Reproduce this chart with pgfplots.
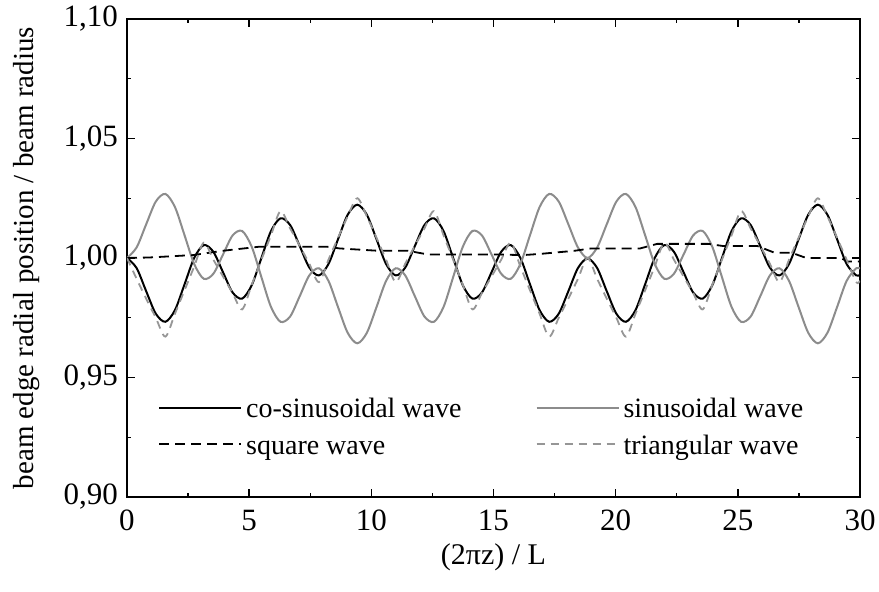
\documentclass[border=0pt]{standalone}
\usepackage{fontspec}
\setmainfont{Liberation Serif}
\usepackage{pgfplots}
\pgfplotsset{compat=1.18}
\definecolor{lgray}{RGB}{140,140,140}
\definecolor{dgray}{RGB}{150,150,150}
\begin{document}
\begin{tikzpicture}
\begin{axis}[
  scale only axis,
  width=366.5pt, height=239pt,
  xmin=0, xmax=30, ymin=0.90, ymax=1.10,
  xtick={0,5,...,30},
  ytick={0.90,0.95,1.00,1.05,1.10},
  minor x tick num=1, minor y tick num=1,
  major tick length=4pt, minor tick length=2pt,
  tick align=inside,
  axis line style={line width=0.9pt},
  every tick/.style={line width=0.7pt, black},
  /pgf/number format/assume math mode=true,
  tick label style={font=\fontsize{15.5}{17}\selectfont},
  yticklabel style={xshift=-1pt, /pgf/number format/.cd, fixed, fixed zerofill, precision=2, use comma},
  xticklabel style={yshift=-3pt, /pgf/number format/.cd, fixed, precision=0},
  xlabel={(2πz) / L},
  ylabel={beam edge radial position / beam radius},
  xlabel style={at={(axis description cs:0.5,-0.127)}, anchor=center, font=\fontsize{15}{17}\selectfont},
  ylabel style={at={(axis description cs:-0.1364,0.5)}, anchor=center, rotate=0, font=\fontsize{14.5}{16}\selectfont},
  legend columns=2,
  legend image code/.code={\draw[#1] (0pt,0pt) -- (41pt,0pt);},
  legend style={at={(rel axis cs:0.042,0.222)}, anchor=north west, draw=none, fill=none,
    font=\fontsize{14}{16}\selectfont, inner sep=0pt, row sep=1.5pt,
    /tikz/every even column/.append style={column sep=35pt}},
  legend cell align=left,
]
\coordinate (BL) at (rel axis cs:0,0);
\coordinate (TR) at (rel axis cs:1,1);
\addplot[black, line width=1pt, smooth] coordinates {
(0,1.0000) (0.393,0.9958) (0.785,0.9861) (1.178,0.9767) (1.571,0.9733) (1.963,0.9782) (2.356,0.9890) (2.749,1.0000) (3.142,1.0054) (3.534,1.0026) (3.927,0.9941) (4.320,0.9856) (4.712,0.9830) (5.105,0.9886) (5.498,0.9999) (5.890,1.0112) (6.283,1.0166) (6.676,1.0138) (7.069,1.0050) (7.461,0.9960) (7.854,0.9927) (8.247,0.9975) (8.639,1.0079) (9.032,1.0181) (9.425,1.0223) (9.817,1.0181) (10.210,1.0079) (10.603,0.9975) (10.996,0.9927) (11.388,0.9960) (11.781,1.0050) (12.174,1.0138) (12.566,1.0166) (12.959,1.0112) (13.352,0.9999) (13.744,0.9886) (14.137,0.9830) (14.530,0.9856) (14.923,0.9941) (15.315,1.0026) (15.708,1.0054) (16.101,1.0000) (16.493,0.9890) (16.886,0.9782) (17.279,0.9733) (17.671,0.9767) (18.064,0.9861) (18.457,0.9958) (18.850,0.9998) (19.242,0.9958) (19.635,0.9861) (20.028,0.9767) (20.420,0.9733) (20.813,0.9782) (21.206,0.9890) (21.598,1.0000) (21.991,1.0054) (22.384,1.0026) (22.777,0.9941) (23.169,0.9856) (23.562,0.9830) (23.955,0.9886) (24.347,0.9999) (24.740,1.0112) (25.133,1.0166) (25.525,1.0138) (25.918,1.0050) (26.311,0.9960) (26.704,0.9927) (27.096,0.9975) (27.489,1.0079) (27.882,1.0181) (28.274,1.0223) (28.667,1.0181) (29.060,1.0079) (29.452,0.9975) (29.845,0.9927) (30,0.9930)
};
\addlegendentry{\strut co-sinusoidal wave}
\addplot[lgray, line width=1pt, smooth] coordinates {
(0,1.0000) (0.393,1.0044) (0.785,1.0141) (1.178,1.0236) (1.571,1.0268) (1.963,1.0213) (2.356,1.0095) (2.749,0.9975) (3.142,0.9913) (3.534,0.9934) (3.927,1.0014) (4.320,1.0094) (4.712,1.0113) (5.105,1.0047) (5.498,0.9921) (5.890,0.9796) (6.283,0.9733) (6.676,0.9755) (7.069,0.9840) (7.461,0.9927) (7.854,0.9957) (8.247,0.9904) (8.639,0.9794) (9.032,0.9687) (9.425,0.9643) (9.817,0.9687) (10.210,0.9794) (10.603,0.9904) (10.996,0.9957) (11.388,0.9927) (11.781,0.9840) (12.174,0.9755) (12.566,0.9733) (12.959,0.9796) (13.352,0.9921) (13.744,1.0047) (14.137,1.0113) (14.530,1.0094) (14.923,1.0014) (15.315,0.9934) (15.708,0.9913) (16.101,0.9975) (16.493,1.0095) (16.886,1.0213) (17.279,1.0268) (17.671,1.0236) (18.064,1.0141) (18.457,1.0044) (18.850,1.0000) (19.242,1.0044) (19.635,1.0141) (20.028,1.0236) (20.420,1.0268) (20.813,1.0213) (21.206,1.0095) (21.598,0.9975) (21.991,0.9913) (22.384,0.9934) (22.777,1.0014) (23.169,1.0094) (23.562,1.0113) (23.955,1.0047) (24.347,0.9921) (24.740,0.9796) (25.133,0.9733) (25.525,0.9755) (25.918,0.9840) (26.311,0.9927) (26.704,0.9957) (27.096,0.9904) (27.489,0.9794) (27.882,0.9687) (28.274,0.9643) (28.667,0.9687) (29.060,0.9794) (29.452,0.9904) (29.845,0.9957) (30,0.9955)
};
\addlegendentry{\strut sinusoidal wave}
\addplot[black, line width=0.9pt, dash pattern=on 5pt off 3pt] coordinates {
(0,1.0000) (0.9,1.0002) (2.3,1.0010) (2.7,1.0012) (3.9,1.0030) (5.4,1.0047) (8.2,1.0047) (8.7,1.0040) (10.3,1.0030) (11.5,1.0030) (12.3,1.0015) (15.0,1.0015) (16.2,1.0012) (16.9,1.0017) (18.3,1.0030) (19.0,1.0040) (21.0,1.0040) (21.7,1.0059) (23.8,1.0059) (24.4,1.0050) (25.8,1.0050) (26.5,1.0022) (27.2,1.0022) (27.8,1.0000) (29.2,1.0000) (29.5,0.9985) (30,0.9985)
};
\addlegendentry{\strut square wave}
\addplot[dgray, line width=0.9pt, dash pattern=on 4pt off 3pt, smooth] coordinates {
(0,1.0000) (0.393,0.9913) (0.785,0.9830) (1.178,0.9750) (1.571,0.9671) (1.963,0.9767) (2.356,0.9865) (2.749,0.9964) (3.142,1.0064) (3.534,0.9993) (3.927,0.9923) (4.320,0.9854) (4.712,0.9785) (5.105,0.9888) (5.498,0.9992) (5.890,1.0094) (6.283,1.0196) (6.676,1.0124) (7.069,1.0051) (7.461,0.9976) (7.854,0.9899) (8.247,0.9993) (8.639,1.0085) (9.032,1.0174) (9.425,1.0250) (9.817,1.0174) (10.210,1.0085) (10.603,0.9993) (10.996,0.9899) (11.388,0.9976) (11.781,1.0051) (12.174,1.0124) (12.566,1.0196) (12.959,1.0094) (13.352,0.9992) (13.744,0.9888) (14.137,0.9785) (14.530,0.9854) (14.923,0.9923) (15.315,0.9993) (15.708,1.0064) (16.101,0.9964) (16.493,0.9865) (16.886,0.9767) (17.279,0.9671) (17.671,0.9750) (18.064,0.9830) (18.457,0.9913) (18.850,1.0000) (19.242,0.9913) (19.635,0.9830) (20.028,0.9750) (20.420,0.9671) (20.813,0.9767) (21.206,0.9865) (21.598,0.9964) (21.991,1.0064) (22.384,0.9993) (22.777,0.9923) (23.169,0.9854) (23.562,0.9785) (23.955,0.9888) (24.347,0.9992) (24.740,1.0094) (25.133,1.0196) (25.525,1.0124) (25.918,1.0051) (26.311,0.9976) (26.704,0.9899) (27.096,0.9993) (27.489,1.0085) (27.882,1.0174) (28.274,1.0250) (28.667,1.0174) (29.060,1.0085) (29.452,0.9993) (29.845,0.9899) (30,0.9905)
};
\addlegendentry{\strut triangular wave}
\end{axis}
\pgfresetboundingbox
\path ([shift={(-63.5pt,-47.5pt)}]BL) rectangle ([shift={(9.5pt,9.5pt)}]TR);
\end{tikzpicture}
\end{document}
